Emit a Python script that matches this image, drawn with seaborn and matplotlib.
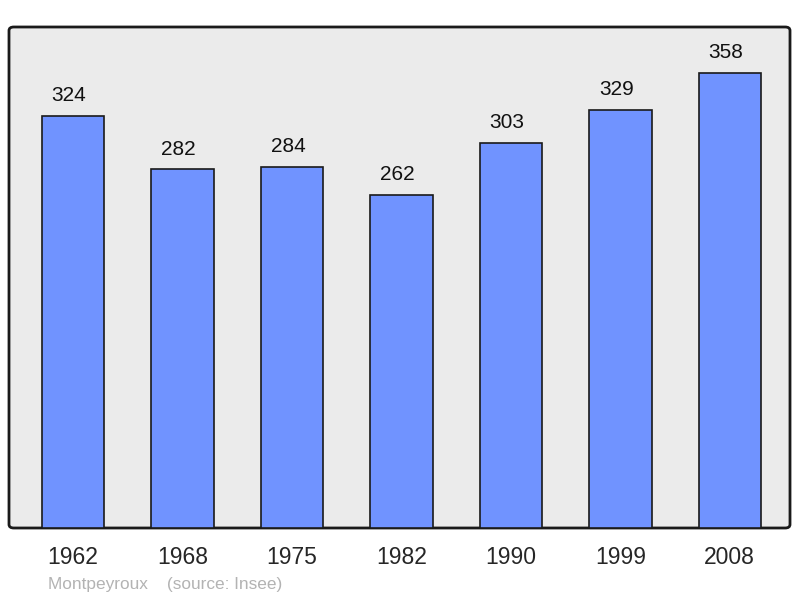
import matplotlib
matplotlib.use("Agg")
import matplotlib.pyplot as plt
from matplotlib.patches import FancyBboxPatch
import seaborn as sns
import pandas as pd

# data
years = ["1962", "1968", "1975", "1982", "1990", "1999", "2008"]
population = [324, 282, 284, 262, 303, 329, 358]

df = pd.DataFrame({"year": years, "pop": population})

sns.set_style("white")
plt.rcParams["font.family"] = ["Liberation Sans", "DejaVu Sans"]

fig = plt.figure(figsize=(8, 5.98), dpi=100)
ax = fig.add_axes([9 / 800, 70 / 598, 781 / 800, 501 / 598])
ax.set_facecolor("none")
ax.set_zorder(1)

# rounded grey panel behind the bars
panel = FancyBboxPatch((9 / 800, 70 / 598), 781 / 800, 501 / 598,
                       boxstyle="round,pad=0,rounding_size=0.006",
                       transform=fig.transFigure, facecolor="#ebebeb",
                       edgecolor="#1a1a1a", linewidth=2, zorder=-1)
fig.patches.append(panel)

sns.barplot(data=df, x="year", y="pop", order=years, color="#7093ff",
            saturation=1, width=0.57, edgecolor="#1a1a1a", linewidth=1.2,
            ax=ax)

for i, v in enumerate(population):
    ax.text(i - 0.037, v + 15.8, str(v), ha="center", va="center",
            fontsize=15, color="#111111")

ax.set_xlim(-0.585, 6.55)
ax.set_ylim(0, 394)
ax.set_yticks([])
ax.set_xlabel("")
ax.set_ylabel("")
ax.tick_params(axis="x", length=0, labelsize=16.5, pad=13)
for s in ax.spines.values():
    s.set_visible(False)

fig.text(48 / 800, 1 - 584 / 598, "Montpeyroux    (source: Insee)",
         fontsize=12.4, color="#b3b3b3", va="center", ha="left")

fig.savefig("out.png", dpi=100)
